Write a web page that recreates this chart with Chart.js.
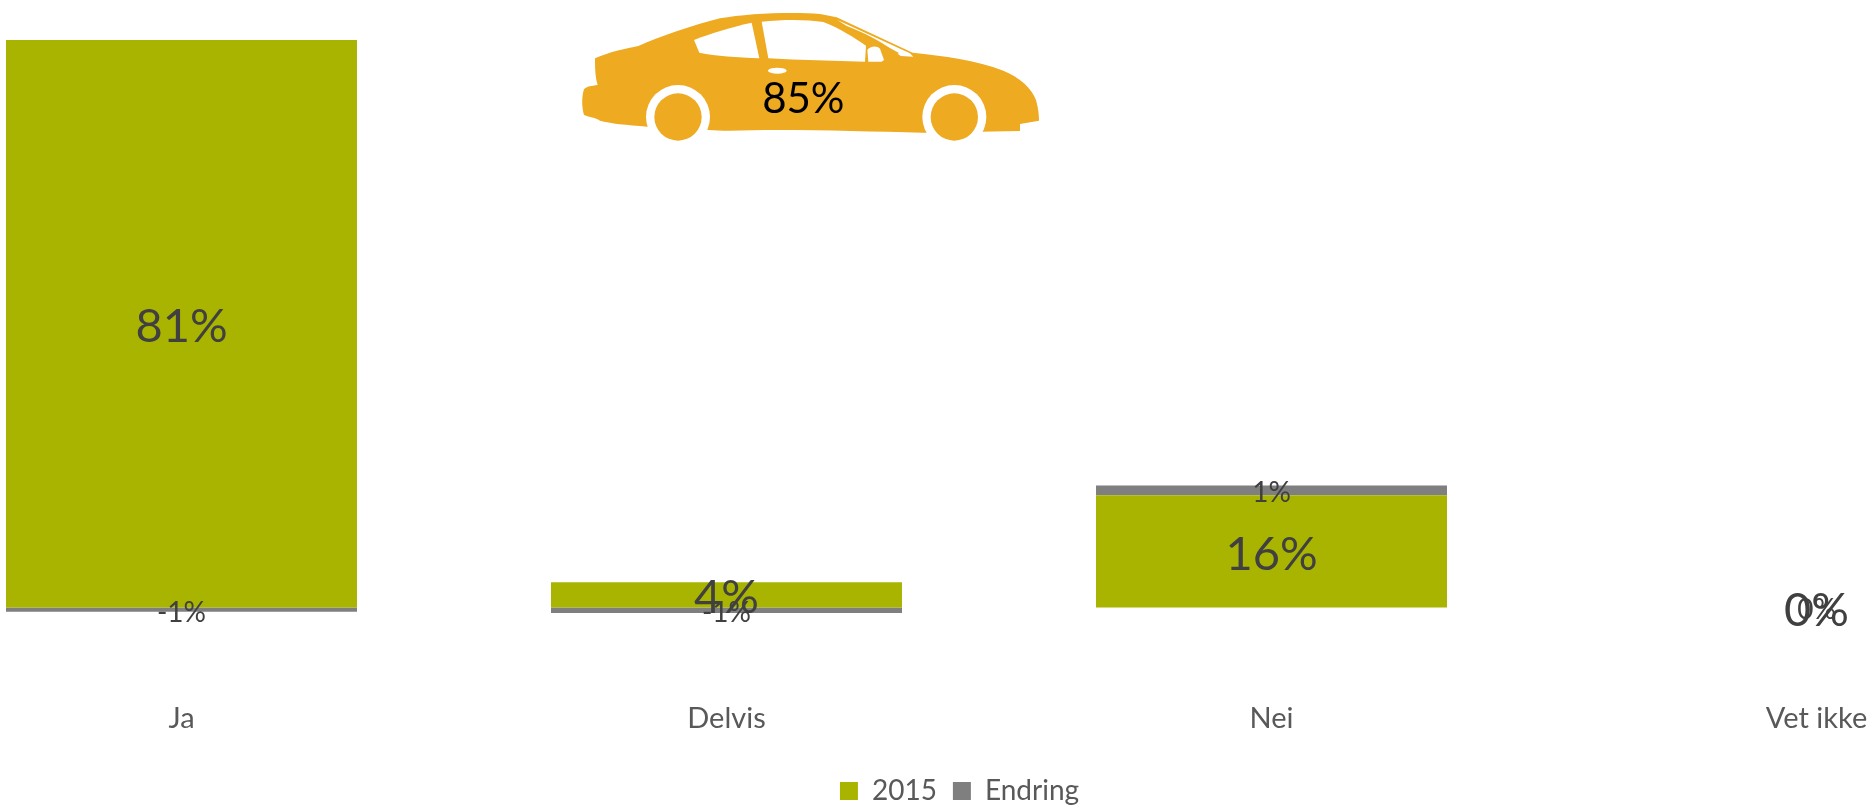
<!DOCTYPE html>
<html>
<head>
<meta charset="utf-8">
<script src="https://cdn.jsdelivr.net/npm/chart.js@4/dist/chart.umd.min.js"></script>
<style>
html,body{margin:0;padding:0;background:#fff;width:1874px;height:807px;overflow:hidden;position:relative}
#wrap{position:absolute;left:-170px;top:0;width:2260px;height:815px}
#car{position:absolute;left:560px;top:0;width:500px;height:160px}
</style>
</head>
<body>
<div id="wrap"><canvas id="c" width="2260" height="815"></canvas></div>
<svg id="car" viewBox="0 0 1500 480" xmlns="http://www.w3.org/2000/svg">
  <path fill="#EEAA20" d="M105 175 C150 155 200 145 235 138 C300 110 400 75 480 55 C560 40 700 35 780 42 L830 52 L1058 158 C1150 168 1250 180 1330 212 C1380 232 1415 265 1428 300 C1435 325 1437 345 1437 362 L1380 372 L1380 393 L1090 398 C950 395 800 390 650 390 C580 390 500 395 445 390 L262 380 C200 375 150 370 120 362 C105 352 90 352 72 345 C65 320 65 290 72 268 C80 258 95 258 113 255 C105 230 105 200 105 175 Z"/>
  <circle cx="354" cy="351" r="96" fill="#fff"/>
  <circle cx="1183" cy="351" r="96" fill="#fff"/>
  <circle cx="354" cy="351" r="71" fill="#EEAA20"/>
  <circle cx="1183" cy="351" r="71" fill="#EEAA20"/>
  <path fill="#fff" d="M402 120 C450 100 520 80 575 68 L598 175 C530 172 470 168 418 158 Z"/>
  <path fill="#fff" d="M605 65 C670 58 740 58 790 66 C840 85 885 115 918 137 L915 185 C820 183 720 180 625 175 Z"/>
  <path fill="#fff" d="M922 150 C930 138 950 136 960 146 L972 180 L965 185 L925 185 Z"/>
  <path fill="#fff" d="M832 60 L1050 160 L1060 170 L1022 168 C980 135 920 100 860 78 Z"/>
  <path fill="none" stroke="#EEAA20" stroke-width="4" d="M840 72 C900 98 960 130 1015 160"/>
  <ellipse cx="652" cy="212" rx="28" ry="9" fill="#fff"/>
  <text x="730" y="340" text-anchor="middle" font-family="Lato" font-size="126" fill="#000">85%</text>
</svg>
<script>
const categories = ['Ja', 'Delvis', 'Nei', 'Vet ikke'];
const values2015 = [81, 3.6, 16, 0];
const valuesEndring = [-0.6, -0.8, 1.4, 0];
const seriesNames = ['2015', 'Endring'];
const seriesColors = ['#A9B400', '#7F7F7F'];
const labelSizes = [47, 28];

const barLabels = {
  id: 'barLabels',
  afterDatasetsDraw(chart) {
    const ctx = chart.ctx;
    chart.data.datasets.forEach((ds, i) => {
      const meta = chart.getDatasetMeta(i);
      meta.data.forEach((bar, j) => {
        const y = (bar.y + bar.base) / 2;
        ctx.save();
        ctx.font = labelSizes[i] + 'px Lato';
        ctx.fillStyle = '#404040';
        ctx.textAlign = 'center';
        ctx.textBaseline = 'middle';
        ctx.fillText(Math.round(ds.data[j]) + '%', bar.x, y + 3);
        ctx.restore();
      });
    });
  }
};

new Chart(document.getElementById('c'), {
  type: 'bar',
  data: {
    labels: categories,
    datasets: [
      { label: seriesNames[0], data: values2015, backgroundColor: seriesColors[0], borderWidth: 0 },
      { label: seriesNames[1], data: valuesEndring, backgroundColor: seriesColors[1], borderWidth: 0 }
    ]
  },
  options: {
    responsive: false,
    animation: false,
    datasets: { bar: { barPercentage: 0.644, categoryPercentage: 1 } },
    layout: { padding: { left: 0, right: 1, top: 12, bottom: 0 } },
    plugins: {
      tooltip: { enabled: false },
      legend: {
        position: 'bottom',
        labels: {
          boxWidth: 18, boxHeight: 18, padding: 16, color: '#595959',
          font: { family: 'Lato', size: 28 }
        }
      }
    },
    scales: {
      x: {
        stacked: true,
        grid: { display: false },
        border: { display: false },
        afterFit(scale) { scale.height = 83.5; },
        ticks: { color: '#595959', font: { family: 'Lato', size: 29 }, padding: 15.5, maxRotation: 0, autoSkip: false }
      },
      y: {
        stacked: true, min: -10, max: 85,
        grid: { display: false },
        border: { display: false },
        ticks: { display: false },
        afterFit(scale) { scale.width = 79; }
      }
    }
  },
  plugins: [barLabels]
});
</script>
</body>
</html>
